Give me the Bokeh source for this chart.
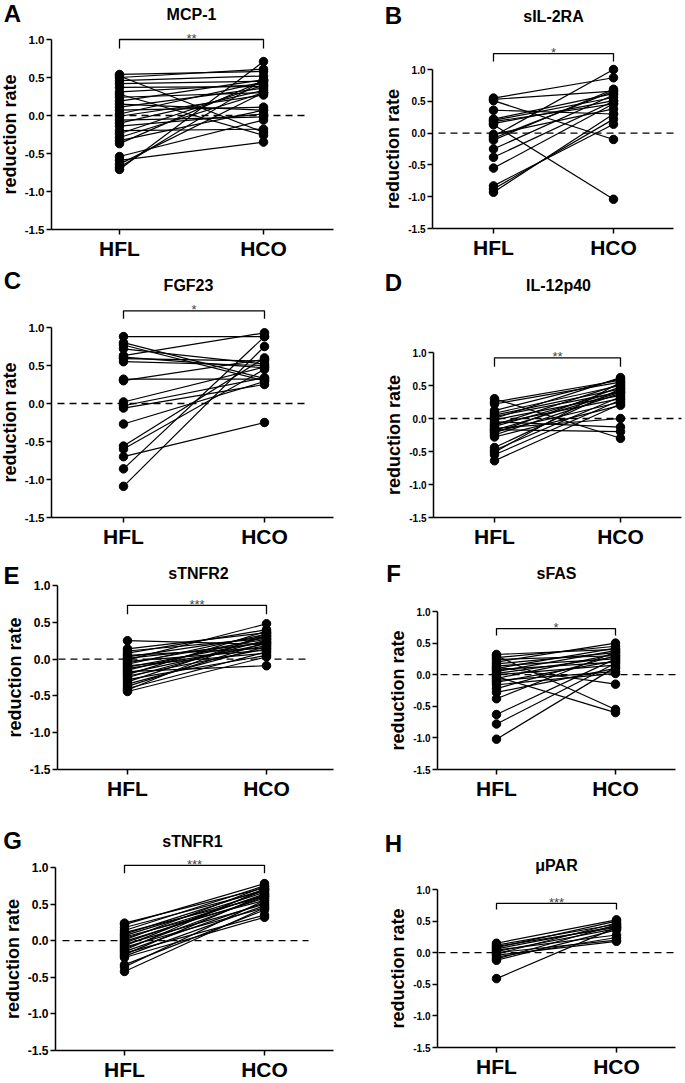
from bokeh.plotting import figure
from bokeh.models import Range1d, FixedTicker, NumeralTickFormatter, Label
from bokeh.layouts import column, row
from bokeh.embed import file_html
from bokeh.resources import INLINE
from bokeh.core.properties import value

# ---------------- data ----------------
groups = ["HFL", "HCO"]
y_ticks = [-1.5, -1.0, -0.5, 0.0, 0.5, 1.0]
letters = ["A", "B", "C", "D", "E", "F", "G", "H"]
titles = ["MCP-1", "sIL-2RA", "FGF23", "IL-12p40", "sTNFR2", "sFAS", "sTNFR1", "μPAR"]
significance = ["**", "*", "*", "**", "***", "*", "***", "***"]
bracket_level = [1.0, 1.25, 1.22, 0.92, 0.73, 0.73, 1.03, 0.78]

mcp1_hfl = [0.54, 0.52, 0.50, 0.46, 0.42, 0.37, 0.31, 0.28, 0.24, 0.19, 0.15, 0.11, 0.07, 0.02,
            -0.01, -0.06, -0.10, -0.14, -0.20, -0.24, -0.29, -0.33, -0.37, -0.54, -0.59, -0.64, -0.68, -0.71]
mcp1_hco = [0.58, -0.22, 0.61, 0.52, 0.45, 0.38, 0.41, -0.26, 0.30, 0.47, 0.07, 0.36, 0.11, 0.44,
            0.27, -0.02, 0.33, 0.02, -0.18, 0.40, 0.30, 0.07, 0.46, -0.06, -0.35, 0.30, 0.47, 0.71]

il2ra_hfl = [0.55, 0.53, 0.51, 0.36, 0.22, 0.20, 0.18, 0.13, 0.15, -0.02, -0.05, -0.08, -0.11,
             -0.25, -0.38, -0.55, -0.83, -0.88, -0.93]
il2ra_hco = [0.87, 0.66, -0.10, 0.30, 0.62, 0.56, 0.46, -1.04, 0.51, 0.38, 1.00, 0.66, 0.69,
             0.60, 0.50, 0.46, 0.14, 0.22, 0.30]

fgf23_hfl = [0.88, 0.80, 0.77, 0.72, 0.63, 0.61, 0.59, 0.55, 0.32, 0.30, 0.02, -0.03, -0.06,
             -0.27, -0.56, -0.60, -0.70, -0.86, -1.09]
fgf23_hco = [0.88, 0.33, 0.30, 0.52, 0.93, 0.47, 0.56, 0.50, 0.32, 0.58, 0.48, 0.34, 0.25,
             0.29, 0.60, 0.45, -0.25, 0.88, 0.75]

il12_hfl = [0.30, 0.25, 0.22, 0.12, 0.08, 0.05, 0.03, 0.00, -0.02, -0.05, -0.08, -0.10, -0.12,
            -0.15, -0.17, -0.18, -0.20, -0.22, -0.25, -0.28, -0.44, -0.48, -0.51, -0.55, -0.64]
il12_hco = [-0.30, 0.58, 0.55, 0.60, 0.50, 0.45, 0.40, 0.62, 0.35, -0.13, 0.30, 0.52, 0.42,
            0.00, -0.20, 0.40, 0.25, 0.48, 0.38, 0.20, 0.45, 0.33, 0.55, 0.28, 0.22]

tnfr2_hfl = [0.25, 0.14, 0.11, 0.08, 0.05, 0.03, 0.01, -0.01, -0.03, -0.05, -0.07, -0.09, -0.11,
             -0.13, -0.15, -0.17, -0.19, -0.21, -0.23, -0.25, -0.28, -0.31, -0.34, -0.37, -0.40,
             -0.42, -0.44]
tnfr2_hco = [0.20, 0.36, 0.28, 0.40, 0.15, 0.31, 0.22, 0.48, 0.12, 0.27, 0.34, 0.08, 0.24,
             0.18, 0.30, -0.09, 0.21, 0.38, 0.14, 0.26, 0.05, 0.32, 0.17, 0.23, 0.10, 0.35, 0.03]

fas_hfl = [0.32, 0.30, 0.27, 0.24, 0.20, 0.17, 0.14, 0.12, 0.10, 0.08, 0.05, 0.02, 0.00, -0.03,
           -0.06, -0.09, -0.12, -0.16, -0.22, -0.28, -0.38, -0.63, -0.78, -1.02]
fas_hco = [0.40, -0.55, 0.45, 0.30, 0.50, 0.35, 0.25, -0.15, 0.42, 0.20, 0.38, 0.28, 0.15, -0.60,
           0.33, 0.05, 0.22, 0.02, 0.30, 0.10, 0.36, 0.25, 0.18, 0.12]

tnfr1_hfl = [0.24, 0.22, 0.18, 0.14, 0.11, 0.09, 0.07, 0.05, 0.03, 0.01, -0.01, -0.03, -0.05,
             -0.07, -0.09, -0.11, -0.13, -0.15, -0.17, -0.19, -0.21, -0.23, -0.33, -0.36, -0.42]
tnfr1_hco = [0.72, 0.78, 0.68, 0.75, 0.60, 0.70, 0.66, 0.55, 0.62, 0.74, 0.58, 0.64, 0.50,
             0.69, 0.45, 0.60, 0.71, 0.52, 0.35, 0.63, 0.48, 0.32, 0.42, 0.55, 0.45]

upar_hfl = [0.15, 0.12, 0.10, 0.08, 0.06, 0.04, 0.02, 0.00, -0.02, -0.04, -0.07, -0.10, -0.12, -0.41]
upar_hco = [0.52, 0.45, 0.40, 0.50, 0.42, 0.28, 0.38, 0.20, 0.47, 0.18, 0.24, 0.44, 0.36, 0.40]

series = [(mcp1_hfl, mcp1_hco), (il2ra_hfl, il2ra_hco), (fgf23_hfl, fgf23_hco), (il12_hfl, il12_hco),
          (tnfr2_hfl, tnfr2_hco), (fas_hfl, fas_hco), (tnfr1_hfl, tnfr1_hco), (upar_hfl, upar_hco)]

# ---------------- layout (page pixels) ----------------
FONT = "Liberation Sans"
COLS = [(0, 343), (343, 685)]
ROWS = [(0, 267), (267, 549), (549, 812), (812, 1083)]

GEOM = [
    dict(L=51, R=333, a=119, b=263, y1=39, y0=229, title=(191, 14), letter=(12, 13), br=9, dash=(57, 307), tfs=11.5),
    dict(L=432, R=673, a=493, b=613, y1=69, y0=228, title=(553, 16), letter=(393, 15), br=8, dash=(438, 673), tfs=10),
    dict(L=51, R=333, a=123, b=264, y1=327, y0=517, title=(188, 285), letter=(12, 280), br=8, dash=(57, 307), tfs=11.5),
    dict(L=433, R=681, a=494, b=620, y1=352, y0=517, title=(558, 285), letter=(393, 282), br=9, dash=(438, 681), tfs=10),
    dict(L=57, R=333, a=127, b=266, y1=585, y0=769, title=(198, 573), letter=(11, 575), br=9, dash=(58, 310), tfs=12),
    dict(L=437, R=675, a=496, b=615, y1=611, y0=769, title=(556, 573), letter=(393, 573), br=7, dash=(440, 675), tfs=10),
    dict(L=55, R=333, a=124, b=264, y1=867, y0=1050, title=(192, 841), letter=(12, 840), br=8, dash=(62, 308), tfs=12),
    dict(L=437, R=675, a=496, b=616, y1=889, y0=1047, title=(556, 865), letter=(393, 843), br=6, dash=(438, 675), tfs=10),
]


def make_panel(i):
    g = GEOM[i]
    cl, cr = COLS[i % 2]
    ct, cb = ROWS[i // 2]
    s = (g["y0"] - g["y1"]) / 2.5
    kx = g["b"] - g["a"]
    dx = lambda px: (px - g["a"]) / kx
    dy = lambda py: -1.5 + (g["y0"] - py) / s

    p = figure(width=cr - cl, height=cb - ct,
               min_border_left=0, min_border_right=0, min_border_top=0, min_border_bottom=0,
               x_range=Range1d(dx(cl), dx(cr)), y_range=Range1d(dy(cb), dy(ct)),
               output_backend="svg", toolbar_location=None, title=None)
    p.outline_line_color = None
    p.grid.visible = False
    p.background_fill_color = "white"
    p.border_fill_color = "white"

    # axes drawn at fixed data locations inside the frame
    for ax in (p.xaxis[0], p.yaxis[0]):
        ax.axis_line_width = 1.5
        ax.axis_line_color = "black"
        ax.major_tick_line_width = 1.5
        ax.major_tick_line_color = "black"
        ax.major_tick_in = 0
        ax.major_tick_out = 5
        ax.minor_tick_line_color = None
        ax.major_label_text_font = FONT
        ax.major_label_text_font_style = "bold"
        ax.major_label_text_color = "black"

    xa = p.xaxis[0]
    xa.fixed_location = y_ticks[0]
    xa.bounds = (dx(g["L"]), dx(g["R"]))
    xa.ticker = FixedTicker(ticks=list(range(len(groups))))
    xa.major_label_overrides = {k: grp for k, grp in enumerate(groups)}
    xa.major_label_text_font_size = "21px"
    xa.major_label_standoff = 2

    ya = p.yaxis[0]
    ya.fixed_location = dx(g["L"])
    ya.bounds = (y_ticks[0], y_ticks[-1])
    ya.ticker = FixedTicker(ticks=y_ticks)
    ya.formatter = NumeralTickFormatter(format="0.0")
    ya.major_label_text_font_size = f"{g['tfs']}px"
    ya.major_label_standoff = 2
    ya.axis_label = "reduction rate"
    ya.axis_label_text_font = FONT
    ya.axis_label_text_font_style = "bold"
    ya.axis_label_text_font_size = "18px"
    ya.axis_label_standoff = 2
    ya.axis_label_text_color = "black"

    # zero reference line
    p.segment(x0=[dx(g["dash"][0])], y0=[0], x1=[dx(g["dash"][1])], y1=[0],
              line_color="black", line_width=1.3, line_dash="7 5")

    hfl, hco = series[i]
    n = len(hfl)
    p.segment(x0=[0] * n, y0=hfl, x1=[1] * n, y1=hco, line_color="black", line_width=1.2)
    p.scatter(x=[0] * n, y=hfl, size=8.5, marker="circle", fill_color="black", line_color="black")
    p.scatter(x=[1] * n, y=hco, size=8.5, marker="circle", fill_color="black", line_color="black")

    # significance bracket
    yb = bracket_level[i]
    d = g["br"] / s
    p.line(x=[0, 0, 1, 1], y=[yb - d, yb, yb, yb - d], line_color="black", line_width=1.3)
    p.text(x=[0.5], y=[yb], text=[significance[i]], text_align="center", text_baseline="alphabetic",
           text_font=value(FONT), text_font_size="13px", text_color="#444444", y_offset=-1)

    # title and panel letter
    tx, ty = g["title"]
    p.add_layout(Label(x=dx(tx), y=dy(ty), text=titles[i], text_align="center", text_baseline="middle",
                       text_font=FONT, text_font_style="bold", text_font_size="16px", text_color="black"))
    lx, ly = g["letter"]
    p.add_layout(Label(x=dx(lx), y=dy(ly), text=letters[i], text_align="center", text_baseline="middle",
                       text_font=FONT, text_font_style="bold", text_font_size="24px", text_color="black"))
    return p


panels = [make_panel(i) for i in range(8)]
layout = column(*[row(panels[2 * r], panels[2 * r + 1]) for r in range(4)])

open("out.html", "w").write(file_html(layout, INLINE))
